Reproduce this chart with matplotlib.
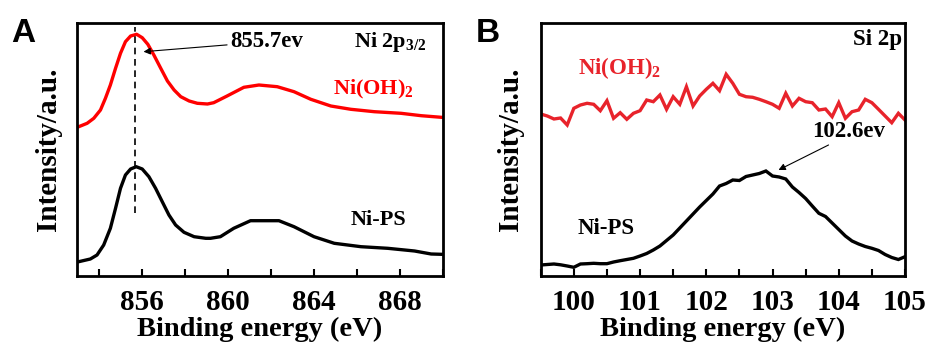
import matplotlib
matplotlib.use("Agg")
import matplotlib.pyplot as plt
from matplotlib.ticker import MultipleLocator

plt.rcParams['font.family'] = ['Liberation Serif', 'DejaVu Serif']
plt.rcParams['font.weight'] = 'bold'
plt.rcParams['mathtext.fontset'] = 'custom'
plt.rcParams['mathtext.rm'] = 'Liberation Serif:bold'
plt.rcParams['mathtext.bf'] = 'Liberation Serif:bold'
plt.rcParams['mathtext.it'] = 'Liberation Serif:bold'
plt.rcParams['mathtext.default'] = 'rm'

# ---------------- Panel A: Ni 2p3/2 ----------------
ni_oh2_energy_A = [853.08, 853.47, 853.78, 854.09, 854.32, 854.55, 854.79, 855.02, 855.25,
                   855.49, 855.77, 856.03, 856.29, 856.57, 856.89, 857.20, 857.51, 857.82,
                   858.21, 858.59, 859.06, 859.35, 859.97, 860.75, 861.45, 862.30, 863.08,
                   863.86, 864.79, 865.72, 866.81, 868.05, 868.99, 869.92]
ni_oh2_A = [149.3, 152.7, 157.7, 166.0, 177.7, 191.0, 207.7, 222.7, 234.3,
            240.0, 241.7, 238.3, 231.7, 221.0, 207.7, 195.0, 186.0, 179.3,
            175.0, 172.7, 172.0, 173.3, 180.0, 188.7, 191.0, 189.3, 184.3,
            176.7, 170.0, 166.7, 164.3, 162.7, 160.3, 158.7]

ni_ps_energy_A = [853.08, 853.62, 853.93, 854.24, 854.55, 854.79, 855.02, 855.25, 855.49,
                  855.75, 856.03, 856.34, 856.65, 856.96, 857.27, 857.58, 857.97, 858.44,
                  858.98, 859.20, 859.66, 860.28, 861.06, 862.38, 863.08, 864.01, 864.95,
                  866.19, 867.43, 868.68, 869.45, 869.92]
ni_ps_A = [14.3, 17.0, 21.0, 31.0, 47.7, 67.7, 87.7, 101.0, 107.0,
           109.3, 107.0, 99.3, 87.7, 74.3, 61.0, 51.0, 43.7, 39.3,
           37.7, 37.7, 39.3, 47.7, 55.3, 55.3, 49.3, 39.3, 32.7,
           29.3, 27.7, 25.0, 22.0, 21.7]

peak_A = 855.7
xticks_A = [856, 860, 864, 868]

# ---------------- Panel B: Si 2p ----------------
energy_B = [99.5, 99.6, 99.7, 99.8, 99.9, 100.0, 100.1, 100.2, 100.3, 100.4,
            100.5, 100.6, 100.7, 100.8, 100.9, 101.0, 101.1, 101.2, 101.3, 101.4,
            101.5, 101.6, 101.7, 101.8, 101.9, 102.0, 102.1, 102.2, 102.3, 102.4,
            102.5, 102.6, 102.7, 102.8, 102.9, 103.0, 103.1, 103.2, 103.3, 103.4,
            103.5, 103.6, 103.7, 103.8, 103.9, 104.0, 104.1, 104.2, 104.3, 104.4,
            104.5, 104.6, 104.7, 104.8, 104.9, 105.0]
ni_oh2_B = [162.0, 160.0, 157.0, 158.0, 151.0, 167.7, 171.0, 172.7, 171.7, 165.3,
            175.3, 157.7, 163.3, 156.7, 162.7, 165.3, 176.0, 174.3, 181.0, 166.7,
            179.3, 171.7, 189.3, 170.0, 180.0, 186.7, 192.7, 185.3, 201.7, 192.7,
            181.7, 179.3, 178.7, 176.7, 174.3, 171.7, 167.7, 182.7, 170.0, 177.7,
            174.3, 173.3, 166.0, 167.0, 159.3, 173.3, 157.7, 164.3, 166.0, 176.7,
            173.3, 166.7, 160.0, 153.3, 162.7, 156.0]
ni_ps_B = [11.0, 11.5, 12.0, 11.2, 10.0, 8.7, 12.0, 12.3, 12.7, 12.3,
           12.3, 14.0, 15.3, 16.5, 17.7, 20.0, 22.5, 26.0, 30.0, 35.5,
           41.0, 48.0, 55.0, 62.0, 69.0, 75.5, 82.0, 90.0, 92.5, 96.0,
           95.5, 99.5, 101.0, 102.5, 105.0, 100.0, 99.0, 97.0, 89.0, 83.5,
           77.5, 70.0, 62.7, 59.5, 53.0, 46.5, 40.0, 35.0, 32.0, 29.5,
           27.7, 25.5, 21.5, 18.5, 16.5, 19.3]
xticks_B = [100, 101, 102, 103, 104, 105]

W, H = 931, 347
fig = plt.figure(figsize=(W / 100, H / 100), dpi=100)
axA = fig.add_axes([77 / W, (H - 276) / H, (443 - 77) / W, (276 - 23) / H])
axB = fig.add_axes([540.7 / W, (H - 276) / H, (905 - 540.7) / W, (276 - 23) / H])

red_A = '#ff0000'
red_B = '#e8232b'
lw = 2.4

def style(ax):
    for s in ax.spines.values():
        s.set_linewidth(2.0)
    ax.tick_params(axis='x', which='both', direction='in', length=5, width=1.5,
                   labelsize=21, pad=9, top=False)
    ax.tick_params(axis='y', which='both', left=False, labelleft=False)
    for lab in ax.get_xticklabels():
        lab.set_fontweight('bold')
    ax.set_ylim(0, 253)
    ax.set_xlabel('Binding energy (eV)', fontsize=20.5, fontweight='bold')
    ax.set_ylabel('Intensity/a.u.', fontsize=21, fontweight='bold')

# Panel A
axA.plot(ni_oh2_energy_A, ni_oh2_A, color=red_A, lw=lw, solid_joinstyle='round')
axA.plot(ni_ps_energy_A, ni_ps_A, color='black', lw=lw, solid_joinstyle='round')
axA.set_xlim(853, 870)
axA.set_xticks(xticks_A)
axA.xaxis.set_minor_locator(MultipleLocator(2))
style(axA)
axA.plot([peak_A, peak_A], [63, 249], color='black', lw=1.2, linestyle=(0, (4, 2.8)))
axA.annotate('855.7ev', xy=(856.09, 224.3), xytext=(860.1, 234.3),
             fontsize=16.5, fontweight='bold', ha='left', va='center',
             arrowprops=dict(arrowstyle='-|>', lw=0.8, color='black',
                             mutation_scale=10, shrinkA=0, shrinkB=0))
axA.text(869.25, 234.3, r'Ni 2p$_{3/2}$', fontsize=16, fontweight='bold',
         ha='right', va='center')
axA.text(868.65, 186.7, r'Ni(OH)$_2$', fontsize=16, fontweight='bold',
         ha='right', va='center', color=red_A)
axA.text(868.3, 56, 'Ni-PS', fontsize=16, fontweight='bold',
         ha='right', va='center')

# Panel B
axB.plot(energy_B, ni_oh2_B, color=red_B, lw=lw, solid_joinstyle='miter')
axB.plot(energy_B, ni_ps_B, color='black', lw=lw, solid_joinstyle='miter')
axB.set_xlim(99.5, 105)
axB.set_xticks(xticks_B)
axB.xaxis.set_minor_locator(MultipleLocator(0.5))
style(axB)
axB.annotate('102.6ev', xy=(103.09, 106), xytext=(104.15, 144.3),
             fontsize=16.5, fontweight='bold', ha='center', va='center',
             arrowprops=dict(arrowstyle='-|>', lw=0.8, color='black',
                             mutation_scale=10, shrinkA=0, shrinkB=0,
                             relpos=(0.3, 0.0)))
axB.text(104.96, 236, 'Si 2p', fontsize=16.5, fontweight='bold',
         ha='right', va='center')
axB.text(100.06, 207.7, r'Ni(OH)$_2$', fontsize=16.5, fontweight='bold',
         ha='left', va='center', color=red_B)
axB.text(100.06, 47.7, 'Ni-PS', fontsize=16.5, fontweight='bold',
         ha='left', va='center')

for ax in (axA, axB):
    ax.xaxis.set_label_coords(0.5, -0.16)
axA.yaxis.set_label_coords(-0.042, 0.5)
axB.yaxis.set_label_coords(-0.045, 0.5)

fig.text(11 / W, 1 - 33 / H, 'A', family='Liberation Sans', fontweight='bold',
         fontsize=24, ha='left', va='center')
fig.text(476 / W, 1 - 33 / H, 'B', family='Liberation Sans', fontweight='bold',
         fontsize=24, ha='left', va='center')

fig.savefig('out.png', dpi=100)
